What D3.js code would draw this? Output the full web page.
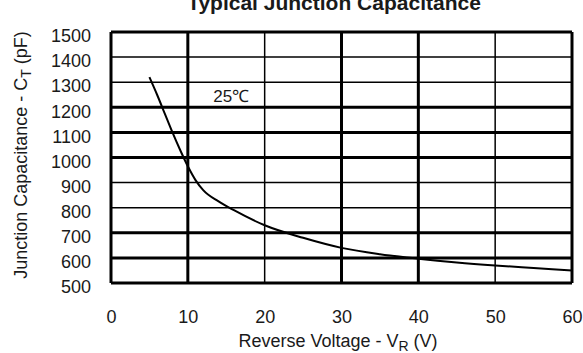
<!DOCTYPE html>
<html>
<head>
<meta charset="utf-8">
<script src="https://cdn.jsdelivr.net/npm/d3@7"></script>
<style>
  body { margin: 0; background: #fff; }
  svg text { font-family: "Liberation Sans", Arial, sans-serif; fill: #1a1a1a; }
</style>
</head>
<body>
<div id="chart"></div>
<script>
// Reverse voltage (V) and junction capacitance (pF)
const voltage = [5, 6, 7, 8, 9, 10, 11, 12, 14, 16, 20, 25, 30, 35, 40, 45, 50, 55, 60];
const capacitance = [1320, 1250, 1175, 1100, 1030, 965, 910, 870, 825, 790, 730, 680, 640, 615, 597, 582, 570, 560, 550];

const xTicks = [0, 10, 20, 30, 40, 50, 60];
const yTicks = [500, 600, 700, 800, 900, 1000, 1100, 1200, 1300, 1400, 1500];
// grid lines drawn heavy in the original scan
const xHeavy = [0, 10, 30, 40, 60];
const yHeavy = [500, 600, 700, 1000, 1100, 1200, 1500];

const title = "Typical Junction Capacitance";
const curveLabel = "25℃";

const width = 583;
const height = 353;
const margin = { top: 32, right: 11, bottom: 70, left: 111 };

const svg = d3.select("#chart")
  .append("svg")
  .attr("width", width)
  .attr("height", height);

const x = d3.scaleLinear()
  .domain([0, 60])
  .range([margin.left, width - margin.right]);

const y = d3.scaleLinear()
  .domain([500, 1500])
  .range([height - margin.bottom, margin.top]);

// Title, clipped by the top of the image
svg.append("text")
  .attr("x", 334)
  .attr("y", 10)
  .attr("text-anchor", "middle")
  .style("font-size", "21px")
  .style("font-weight", "bold")
  .text(title);

// Grid
const grid = svg.append("g");

grid.selectAll(".vline")
  .data(xTicks)
  .join("line")
  .attr("x1", (d) => x(d))
  .attr("x2", (d) => x(d))
  .attr("y1", y(1500))
  .attr("y2", y(500))
  .attr("stroke", "#000")
  .attr("stroke-width", (d) => (xHeavy.includes(d) ? 3 : 1.5));

grid.selectAll(".hline")
  .data(yTicks)
  .join("line")
  .attr("x1", x(0))
  .attr("x2", x(60))
  .attr("y1", (d) => y(d))
  .attr("y2", (d) => y(d))
  .attr("stroke", "#000")
  .attr("stroke-width", (d) => (yHeavy.includes(d) ? 3 : 1.5));

// Axes (labels only)
const xAxis = d3.axisBottom(x)
  .tickValues(xTicks)
  .tickFormat(d3.format("d"))
  .tickSize(0)
  .tickPadding(0);
svg.append("g")
  .attr("transform", `translate(0,${y(500) + 27})`)
  .call(xAxis)
  .call((g) => g.select(".domain").remove())
  .selectAll("text")
  .attr("dy", "0.71em")
  .attr("y", 0)
  .style("font-size", "18px");

const yAxis = d3.axisLeft(y)
  .tickValues(yTicks)
  .tickFormat(d3.format("d"))
  .tickSize(0)
  .tickPadding(0);
svg.append("g")
  .attr("transform", `translate(${x(0) - 20},4)`)
  .call(yAxis)
  .call((g) => g.select(".domain").remove())
  .selectAll("text")
  .style("font-size", "18px");

// Curve
const line = d3.line()
  .x((d, i) => x(voltage[i]))
  .y((d) => y(d))
  .curve(d3.curveMonotoneX);

svg.append("path")
  .datum(capacitance)
  .attr("fill", "none")
  .attr("stroke", "#000")
  .attr("stroke-width", 2)
  .attr("d", line);

svg.append("text")
  .attr("x", x(13.3))
  .attr("y", y(1220))
  .style("font-size", "17px")
  .text(curveLabel);

// X title
const xt = svg.append("text")
  .attr("x", 338)
  .attr("y", 347)
  .attr("text-anchor", "middle")
  .style("font-size", "18px");
xt.append("tspan").text("Reverse Voltage - V");
xt.append("tspan").attr("dy", 4).style("font-size", "14px").text("R");
xt.append("tspan").attr("dy", -4).text(" (V)");

// Y title
const yt = svg.append("text")
  .attr("transform", `translate(27,155) rotate(-90)`)
  .attr("text-anchor", "middle")
  .style("font-size", "18px");
yt.append("tspan").text("Junction Capacitance - C");
yt.append("tspan").attr("dy", 4).style("font-size", "14px").text("T");
yt.append("tspan").attr("dy", -4).text(" (pF)");
</script>
</body>
</html>
